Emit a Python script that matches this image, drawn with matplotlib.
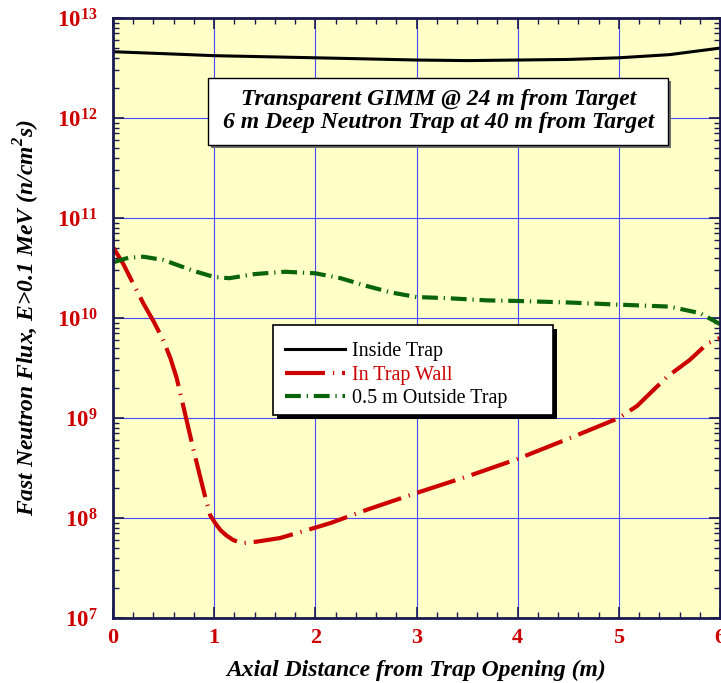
"""Fast neutron flux along the trap axis (inside, wall, outside)."""

import matplotlib

matplotlib.use("Agg")
import matplotlib.pyplot as plt
from matplotlib.patches import Rectangle

plt.rcParams["font.family"] = ["Liberation Serif", "DejaVu Serif"]
plt.rcParams["mathtext.fontset"] = "custom"
plt.rcParams["mathtext.bf"] = "Liberation Serif:bold"
plt.rcParams["mathtext.bfit"] = "Liberation Serif:italic:bold"
plt.rcParams["mathtext.rm"] = "Liberation Serif:bold"

# data
x_inside = [0, 0.5, 1, 1.5, 2, 2.5, 3, 3.5, 4, 4.5, 5, 5.5, 6]
flux_inside = [4.6e12, 4.4e12, 4.2e12, 4.1e12, 4.0e12, 3.9e12, 3.8e12,
               3.75e12, 3.8e12, 3.85e12, 4.0e12, 4.3e12, 5.0e12]

x_wall = [0, 0.1, 0.2, 0.3, 0.4, 0.5, 0.57, 0.63, 0.7, 0.8, 0.9, 0.96, 1.01,
          1.06, 1.12, 1.19, 1.28, 1.42, 1.65, 1.98, 2.15, 2.5, 3.0, 3.5, 4.0,
          4.5, 5.0, 5.18, 5.48, 5.7, 5.88, 6.0]
flux_wall = [5.1e10, 3.5e10, 2.2e10, 1.4e10, 9.3e9, 5.9e9, 3.9e9, 2.5e9,
             1.25e9, 4.6e8, 1.8e8, 1.07e8, 8.9e7, 7.6e7, 6.7e7, 6.0e7, 5.6e7,
             5.8e7, 6.3e7, 7.9e7, 8.9e7, 1.2e8, 1.78e8, 2.6e8, 3.9e8, 6.2e8,
             1.0e9, 1.32e9, 2.6e9, 3.8e9, 5.6e9, 6.3e9]

x_out = [0, 0.15, 0.3, 0.5, 0.8, 1.0, 1.15, 1.4, 1.7, 2.0, 2.25, 2.5, 2.75,
         3.0, 3.3, 3.7, 4.0, 4.5, 5.0, 5.5, 5.8, 6.0]
flux_out = [3.6e10, 4.0e10, 4.1e10, 3.8e10, 2.95e10, 2.57e10, 2.5e10, 2.75e10,
            2.9e10, 2.8e10, 2.5e10, 2.1e10, 1.8e10, 1.62e10, 1.58e10, 1.5e10,
            1.48e10, 1.43e10, 1.36e10, 1.3e10, 1.12e10, 8.7e9]

x_ticks = [0, 1, 2, 3, 4, 5, 6]
y_exps = [7, 8, 9, 10, 11, 12, 13]
labels = ["Inside Trap", "In Trap Wall", "0.5 m Outside Trap"]
title_lines = ["Transparent GIMM @ 24 m from Target",
               "6 m Deep Neutron Trap at 40 m from Target"]

W, H = 721, 683
RED = "#cc0000"
GREEN = "#0a640a"


def px(x, y):
    # pixel (from top-left) -> figure fraction
    return x / W, 1 - y / H


fig = plt.figure(figsize=(W / 100, H / 100), dpi=100)
l, b = px(113, 618)
ax = fig.add_axes([l, b, (720 - 113) / W, (618 - 18) / H])
ax.set_facecolor("#ffffc8")

ax.plot(x_inside, flux_inside, color="black", lw=2.2, label=labels[0])
ax.plot(x_wall, flux_wall, color=RED, lw=3.0, ls=(0, (9.6, 1.9, 0.3, 1.9)),
        label=labels[1])
ax.plot(x_out, flux_out, color=GREEN, lw=3.0, ls=(0, (3.8, 1.4, 0.3, 1.4)),
        label=labels[2])

ax.set_yscale("log")
ax.set_xlim(0, 6)
ax.set_ylim(1e7, 1e13)
ax.set_xticks(x_ticks)
ax.set_xticks([v / 5 for v in range(31)], minor=True)
ax.set_xticklabels([str(v) for v in x_ticks], color=RED, fontsize=16,
                   fontweight="bold")
ax.set_yticks([10.0 ** e for e in y_exps])
ax.set_yticklabels([r"$\mathbf{10^{%d}}$" % e for e in y_exps], color=RED,
                   fontsize=16.5)
ax.tick_params(which="both", direction="in", top=True, right=True,
               color="#1a1a50")
ax.tick_params(which="major", length=8, width=1.2)
ax.tick_params(which="minor", length=4, width=1.0)
ax.tick_params(axis="y", pad=11)
ax.tick_params(axis="x", pad=7)
ax.grid(which="major", color="#4848ff", lw=0.8)
for s in ax.spines.values():
    s.set_color("#1a1a50")
    s.set_linewidth(2)

ax.set_xlabel("Axial Distance from Trap Opening (m)", fontsize=17,
              fontweight="bold", style="italic", labelpad=9)
ax.set_ylabel(r"Fast Neutron Flux, E>0.1 MeV (n/cm$^{\mathbfit{2}}$s)",
              fontsize=17, fontweight="bold", style="italic")
ax.yaxis.set_label_coords(-(113 - 42) / 607, 0.5)

# title box with gray shadow
x0, y0 = px(208, 145)
bw, bh = 460 / W, 67 / H
fig.add_artist(Rectangle((x0 + 3 / W, y0 - 3 / H), bw, bh,
                         transform=fig.transFigure, facecolor="#707070",
                         edgecolor="none", zorder=2))
fig.add_artist(Rectangle((x0, y0), bw, bh, transform=fig.transFigure,
                         facecolor="white", edgecolor="black", lw=1.0,
                         zorder=3))
fig.text(*px(439, 111), "\n".join(title_lines), ha="center", va="center",
         fontsize=17, fontweight="bold", style="italic", linespacing=1.1,
         zorder=4)

# legend box with black shadow
x0, y0 = px(273, 415)
bw, bh = 280 / W, 90 / H
fig.add_artist(Rectangle((x0 + 4 / W, y0 - 4 / H), bw, bh,
                         transform=fig.transFigure, facecolor="black",
                         edgecolor="none", zorder=2))
fig.add_artist(Rectangle((x0, y0), bw, bh, transform=fig.transFigure,
                         facecolor="white", edgecolor="black", lw=1.2,
                         zorder=3))
handles, labs = ax.get_legend_handles_labels()
leg = fig.legend(handles, labs, loc="upper left",
                 bbox_to_anchor=px(285, 342), frameon=False,
                 prop={"family": "Liberation Serif", "size": 14.5},
                 handlelength=3.0, handletextpad=0.35, labelspacing=0.22,
                 borderpad=0, borderaxespad=0)
leg.set_zorder(5)
for t, c in zip(leg.get_texts(), ["black", RED, "black"]):
    t.set_color(c)

fig.savefig("out.png", dpi=100)
